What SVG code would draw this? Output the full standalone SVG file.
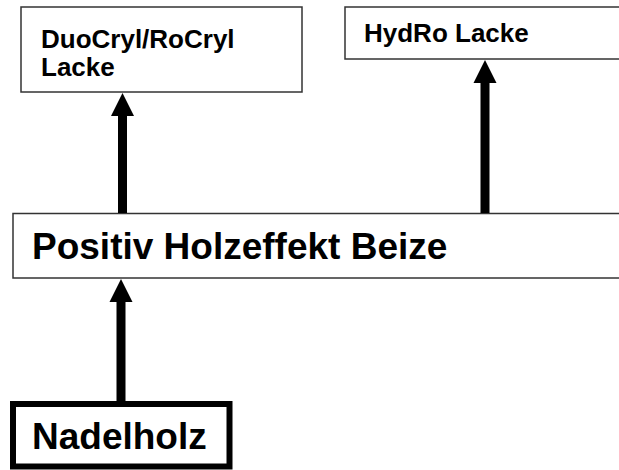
<svg xmlns="http://www.w3.org/2000/svg" width="619" height="470" viewBox="0 0 619 470">
<style>
.box{fill:#fff;stroke:#333;stroke-width:1.5}
.thick{fill:#fff;stroke:#000;stroke-width:6}
.t{font-family:"Liberation Sans",Arial,sans-serif;font-weight:bold;fill:#000}
.s{font-size:26px}
.l{font-size:37px}
.arrow{stroke:#000;stroke-width:9;fill:none;marker-end:url(#ah)}
</style>
<defs>
<marker id="ah" markerUnits="userSpaceOnUse" viewBox="0 -12 23 24" refX="0" refY="0" markerWidth="23" markerHeight="24" orient="auto">
<path d="M0,-11.5 L23,0 L0,11.5 Z" fill="#000"/>
</marker>
</defs>
<rect width="619" height="470" fill="#fff"/>
<g id="duocryl">
<rect class="box" x="21" y="7" width="281" height="85"/>
<text class="t s" x="41" y="48">DuoCryl/RoCryl</text>
<text class="t s" x="41" y="76">Lacke</text>
</g>
<g id="hydro">
<rect class="box" x="345" y="7" width="290" height="52"/>
<text class="t s" x="364" y="42">HydRo Lacke</text>
</g>
<g id="beize">
<rect class="box" x="13" y="213.5" width="620" height="64.5"/>
<text class="t l" x="32" y="259">Positiv Holzeffekt Beize</text>
</g>
<g id="nadelholz">
<rect class="thick" x="13" y="404" width="216.5" height="62.5"/>
<text class="t l" x="32" y="449">Nadelholz</text>
</g>
<g id="connectors">
<line class="arrow" x1="122.5" y1="213" x2="122.5" y2="116"/>
<line class="arrow" x1="485" y1="213" x2="485" y2="83"/>
<line class="arrow" x1="121" y1="401" x2="121" y2="302"/>
</g>
</svg>
